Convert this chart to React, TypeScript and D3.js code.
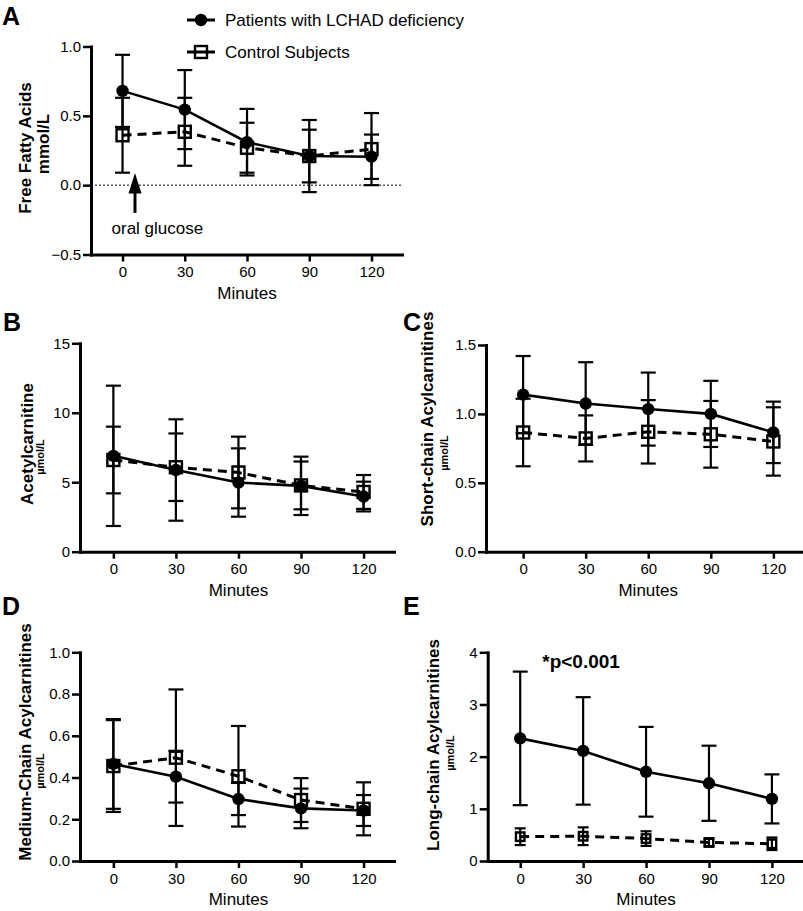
import React, { useEffect, useRef } from 'react';
import * as d3 from 'd3';

const minutes = [0, 30, 60, 90, 120];
const seriesNames = ['Patients with LCHAD deficiency', 'Control Subjects'];

const ffaPatients = [0.68, 0.545, 0.31, 0.21, 0.205];
const ffaPatientsSD = [0.26, 0.285, 0.24, 0.26, 0.16];
const ffaControls = [0.36, 0.385, 0.27, 0.21, 0.26];
const ffaControlsSD = [0.27, 0.245, 0.18, 0.19, 0.26];
const ffaTicks = [-0.5, 0, 0.5, 1.0];

const acetylPatients = [6.9, 5.88, 4.98, 4.74, 3.97];
const acetylPatientsSD = [5.05, 3.65, 2.46, 2.1, 1.07];
const acetylControls = [6.6, 6.08, 5.7, 4.77, 4.3];
const acetylControlsSD = [2.4, 2.43, 2.58, 1.72, 1.22];
const acetylTicks = [0, 5, 10, 15];

const shortPatients = [1.14, 1.075, 1.035, 1.0, 0.866];
const shortPatientsSD = [0.28, 0.3, 0.265, 0.24, 0.223];
const shortControls = [0.865, 0.822, 0.87, 0.852, 0.8];
const shortControlsSD = [0.245, 0.167, 0.23, 0.242, 0.248];
const shortTicks = [0, 0.5, 1.0, 1.5];

const mediumPatients = [0.465, 0.404, 0.297, 0.252, 0.242];
const mediumPatientsSD = [0.215, 0.124, 0.077, 0.095, 0.074];
const mediumControls = [0.455, 0.495, 0.406, 0.292, 0.25];
const mediumControlsSD = [0.22, 0.327, 0.241, 0.105, 0.127];
const mediumTicks = [0, 0.2, 0.4, 0.6, 0.8, 1.0];

const longPatients = [2.35, 2.11, 1.71, 1.49, 1.19];
const longPatientsSD = [1.28, 1.03, 0.86, 0.72, 0.47];
const longControls = [0.466, 0.475, 0.43, 0.355, 0.33];
const longControlsSD = [0.16, 0.17, 0.14, 0.07, 0.12];
const longTicks = [0, 1, 2, 3, 4];

const FONT = '"Liberation Sans", Arial, Helvetica, sans-serif';

type Label = { text: string; x: number; y: number; size: number };
type Panel = {
  letter: string;
  letterPos: [number, number];
  xDomain: [number, number];
  xRange: [number, number];
  yDomain: [number, number];
  yRange: [number, number];
  yTicks: number[];
  fmt: (v: number) => string;
  labels: Label[];
  patients: number[];
  patientsSD: number[];
  controls: number[];
  controlsSD: number[];
  smallControls?: boolean;
};

const fmt1 = d3.format('.1f');
const fmt0 = d3.format('d');

const panels: Panel[] = [
  {
    letter: 'A', letterPos: [2, 25],
    xDomain: [-15.2, 134.7], xRange: [91, 402],
    yDomain: [-0.5, 1.0], yRange: [254.5, 46.5],
    yTicks: ffaTicks, fmt: fmt1,
    labels: [
      { text: 'Free Fatty Acids', x: 31, y: 148, size: 17 },
      { text: 'mmol/L', x: 49, y: 144, size: 17 },
    ],
    patients: ffaPatients, patientsSD: ffaPatientsSD,
    controls: ffaControls, controlsSD: ffaControlsSD,
  },
  {
    letter: 'B', letterPos: [3, 331],
    xDomain: [-16, 134.6], xRange: [80, 394],
    yDomain: [0, 15], yRange: [551.7, 343.3],
    yTicks: acetylTicks, fmt: fmt0,
    labels: [
      { text: 'Acetylcarnitine', x: 33, y: 444, size: 17 },
      { text: 'µmol/L', x: 44, y: 457, size: 11 },
    ],
    patients: acetylPatients, patientsSD: acetylPatientsSD,
    controls: acetylControls, controlsSD: acetylControlsSD,
  },
  {
    letter: 'C', letterPos: [403, 331],
    xDomain: [-17.8, 133.5], xRange: [486, 801.5],
    yDomain: [0, 1.5], yRange: [551.7, 345],
    yTicks: shortTicks, fmt: fmt1,
    labels: [
      { text: 'Short-chain Acylcarnitines', x: 433, y: 419, size: 17 },
      { text: 'µmol/L', x: 448, y: 453, size: 11 },
    ],
    patients: shortPatients, patientsSD: shortPatientsSD,
    controls: shortControls, controlsSD: shortControlsSD,
  },
  {
    letter: 'D', letterPos: [2, 615],
    xDomain: [-16, 134.6], xRange: [80, 394],
    yDomain: [0, 1.0], yRange: [861, 652.3],
    yTicks: mediumTicks, fmt: fmt1,
    labels: [
      { text: 'Medium-Chain Acylcarnitines', x: 31, y: 742, size: 17 },
      { text: 'µmol/L', x: 44, y: 771, size: 11 },
    ],
    patients: mediumPatients, patientsSD: mediumPatientsSD,
    controls: mediumControls, controlsSD: mediumControlsSD,
  },
  {
    letter: 'E', letterPos: [403, 615],
    xDomain: [-15.5, 134.2], xRange: [487.7, 801.7],
    yDomain: [0, 4], yRange: [861, 652.3],
    yTicks: longTicks, fmt: fmt0,
    labels: [
      { text: 'Long-chain Acylcarnitines', x: 439, y: 745, size: 17 },
      { text: 'µmol/L', x: 454, y: 753, size: 11 },
    ],
    patients: longPatients, patientsSD: longPatientsSD,
    controls: longControls, controlsSD: longControlsSD,
    smallControls: true,
  },
];

function drawPanel(svg: any, p: Panel) {
  const g = svg.append('g');
  const x = d3.scaleLinear().domain(p.xDomain).range(p.xRange);
  const y = d3.scaleLinear().domain(p.yDomain).range(p.yRange);

  g.append('text')
    .attr('x', p.letterPos[0]).attr('y', p.letterPos[1])
    .attr('font-family', FONT).attr('font-size', 25).attr('font-weight', 'bold')
    .text(p.letter);

  p.labels.forEach((l) => {
    g.append('text')
      .attr('transform', `translate(${l.x},${l.y}) rotate(-90)`)
      .attr('text-anchor', 'middle')
      .attr('font-family', FONT).attr('font-size', l.size).attr('font-weight', 'bold')
      .text(l.text);
  });

  if (p.yDomain[0] < 0) {
    g.append('line')
      .attr('x1', p.xRange[0]).attr('x2', p.xRange[1])
      .attr('y1', y(0)).attr('y2', y(0))
      .attr('stroke', '#000').attr('stroke-width', 1).attr('stroke-dasharray', '2,2');
  }

  const gy = g.append('g').attr('transform', `translate(${p.xRange[0]},0)`)
    .call(d3.axisLeft(y).tickValues(p.yTicks).tickFormat(p.fmt as any).tickSize(8).tickSizeOuter(0).tickPadding(2));
  const gx = g.append('g').attr('transform', `translate(0,${p.yRange[0]})`)
    .call(d3.axisBottom(x).tickValues(minutes).tickFormat(fmt0 as any).tickSize(7).tickSizeOuter(0).tickPadding(5));
  [gy, gx].forEach((a: any) => {
    a.attr('font-family', FONT).attr('font-size', 15);
    a.select('.domain').attr('stroke-width', 3).attr('stroke-linecap', 'square');
    a.selectAll('.tick line').attr('stroke-width', 2.5);
  });

  g.append('text')
    .attr('x', x(60)).attr('y', p.yRange[0] + 44)
    .attr('text-anchor', 'middle')
    .attr('font-family', FONT).attr('font-size', 17)
    .text('Minutes');

  const line = d3.line<number>().x((_, i) => x(minutes[i])).y((d) => y(d));

  g.append('path').attr('d', line(p.controls))
    .attr('fill', 'none').attr('stroke', '#000').attr('stroke-width', 3)
    .attr('stroke-dasharray', '9,6');
  g.append('path').attr('d', line(p.patients))
    .attr('fill', 'none').attr('stroke', '#000').attr('stroke-width', 2.6);

  const errBars = (means: number[], sds: number[], half: number) => {
    means.forEach((m, i) => {
      const cx = x(minutes[i]);
      const lo = y(m - sds[i]);
      const hi = y(m + sds[i]);
      g.append('line').attr('x1', cx).attr('x2', cx).attr('y1', lo).attr('y2', hi)
        .attr('stroke', '#000').attr('stroke-width', 2.2);
      [lo, hi].forEach((yy) => {
        g.append('line').attr('x1', cx - half).attr('x2', cx + half).attr('y1', yy).attr('y2', yy)
          .attr('stroke', '#000').attr('stroke-width', 2.2);
      });
    });
  };
  errBars(p.controls, p.controlsSD, p.smallControls ? 5.5 : 7.5);
  errBars(p.patients, p.patientsSD, 7.5);

  const s = p.smallControls ? 8.5 : 12;
  p.controls.forEach((m, i) => {
    g.append('rect')
      .attr('x', x(minutes[i]) - s / 2).attr('y', y(m) - s / 2)
      .attr('width', s).attr('height', s)
      .attr('fill', 'none').attr('stroke', '#000').attr('stroke-width', 2.4);
  });
  p.patients.forEach((m, i) => {
    g.append('circle').attr('cx', x(minutes[i])).attr('cy', y(m)).attr('r', 6.2).attr('fill', '#000');
  });

  if (p.letter === 'A') {
    const ax = x(6);
    g.append('line').attr('x1', ax).attr('x2', ax).attr('y1', y(-0.2)).attr('y2', y(0.0))
      .attr('stroke', '#000').attr('stroke-width', 3);
    const tip = y(0.087);
    const base = y(-0.06);
    g.append('path')
      .attr('d', `M${ax},${tip} L${ax - 6.5},${base} L${ax + 6.5},${base} Z`)
      .attr('fill', '#000');
    g.append('text')
      .attr('x', x(-5.3)).attr('y', y(-0.35))
      .attr('font-family', FONT).attr('font-size', 17)
      .text('oral glucose');
  }
  if (p.letter === 'E') {
    g.append('text')
      .attr('x', x(10.5)).attr('y', y(3.7))
      .attr('font-family', FONT).attr('font-size', 19).attr('font-weight', 'bold')
      .text('*p<0.001');
  }
}

function drawLegend(svg: any) {
  const g = svg.append('g');
  g.append('line').attr('x1', 187).attr('x2', 215).attr('y1', 20).attr('y2', 20)
    .attr('stroke', '#000').attr('stroke-width', 3);
  g.append('circle').attr('cx', 201).attr('cy', 20).attr('r', 6.2).attr('fill', '#000');
  g.append('text').attr('x', 225).attr('y', 26)
    .attr('font-family', FONT).attr('font-size', 17).text(seriesNames[0]);
  g.append('line').attr('x1', 187).attr('x2', 215).attr('y1', 52).attr('y2', 52)
    .attr('stroke', '#000').attr('stroke-width', 3);
  g.append('rect').attr('x', 195).attr('y', 46).attr('width', 12).attr('height', 12)
    .attr('fill', 'none').attr('stroke', '#000').attr('stroke-width', 2.4);
  g.append('text').attr('x', 225).attr('y', 58)
    .attr('font-family', FONT).attr('font-size', 17).text(seriesNames[1]);
}

export default function App() {
  const ref = useRef<SVGSVGElement>(null);
  useEffect(() => {
    const svg = d3.select(ref.current);
    svg.selectAll('*').remove();
    panels.forEach((p) => drawPanel(svg, p));
    drawLegend(svg);
  }, []);
  return (
    <svg
      ref={ref}
      width={803}
      height={911}
      style={{ position: 'absolute', left: 0, top: 0, background: '#fff' }}
    />
  );
}
